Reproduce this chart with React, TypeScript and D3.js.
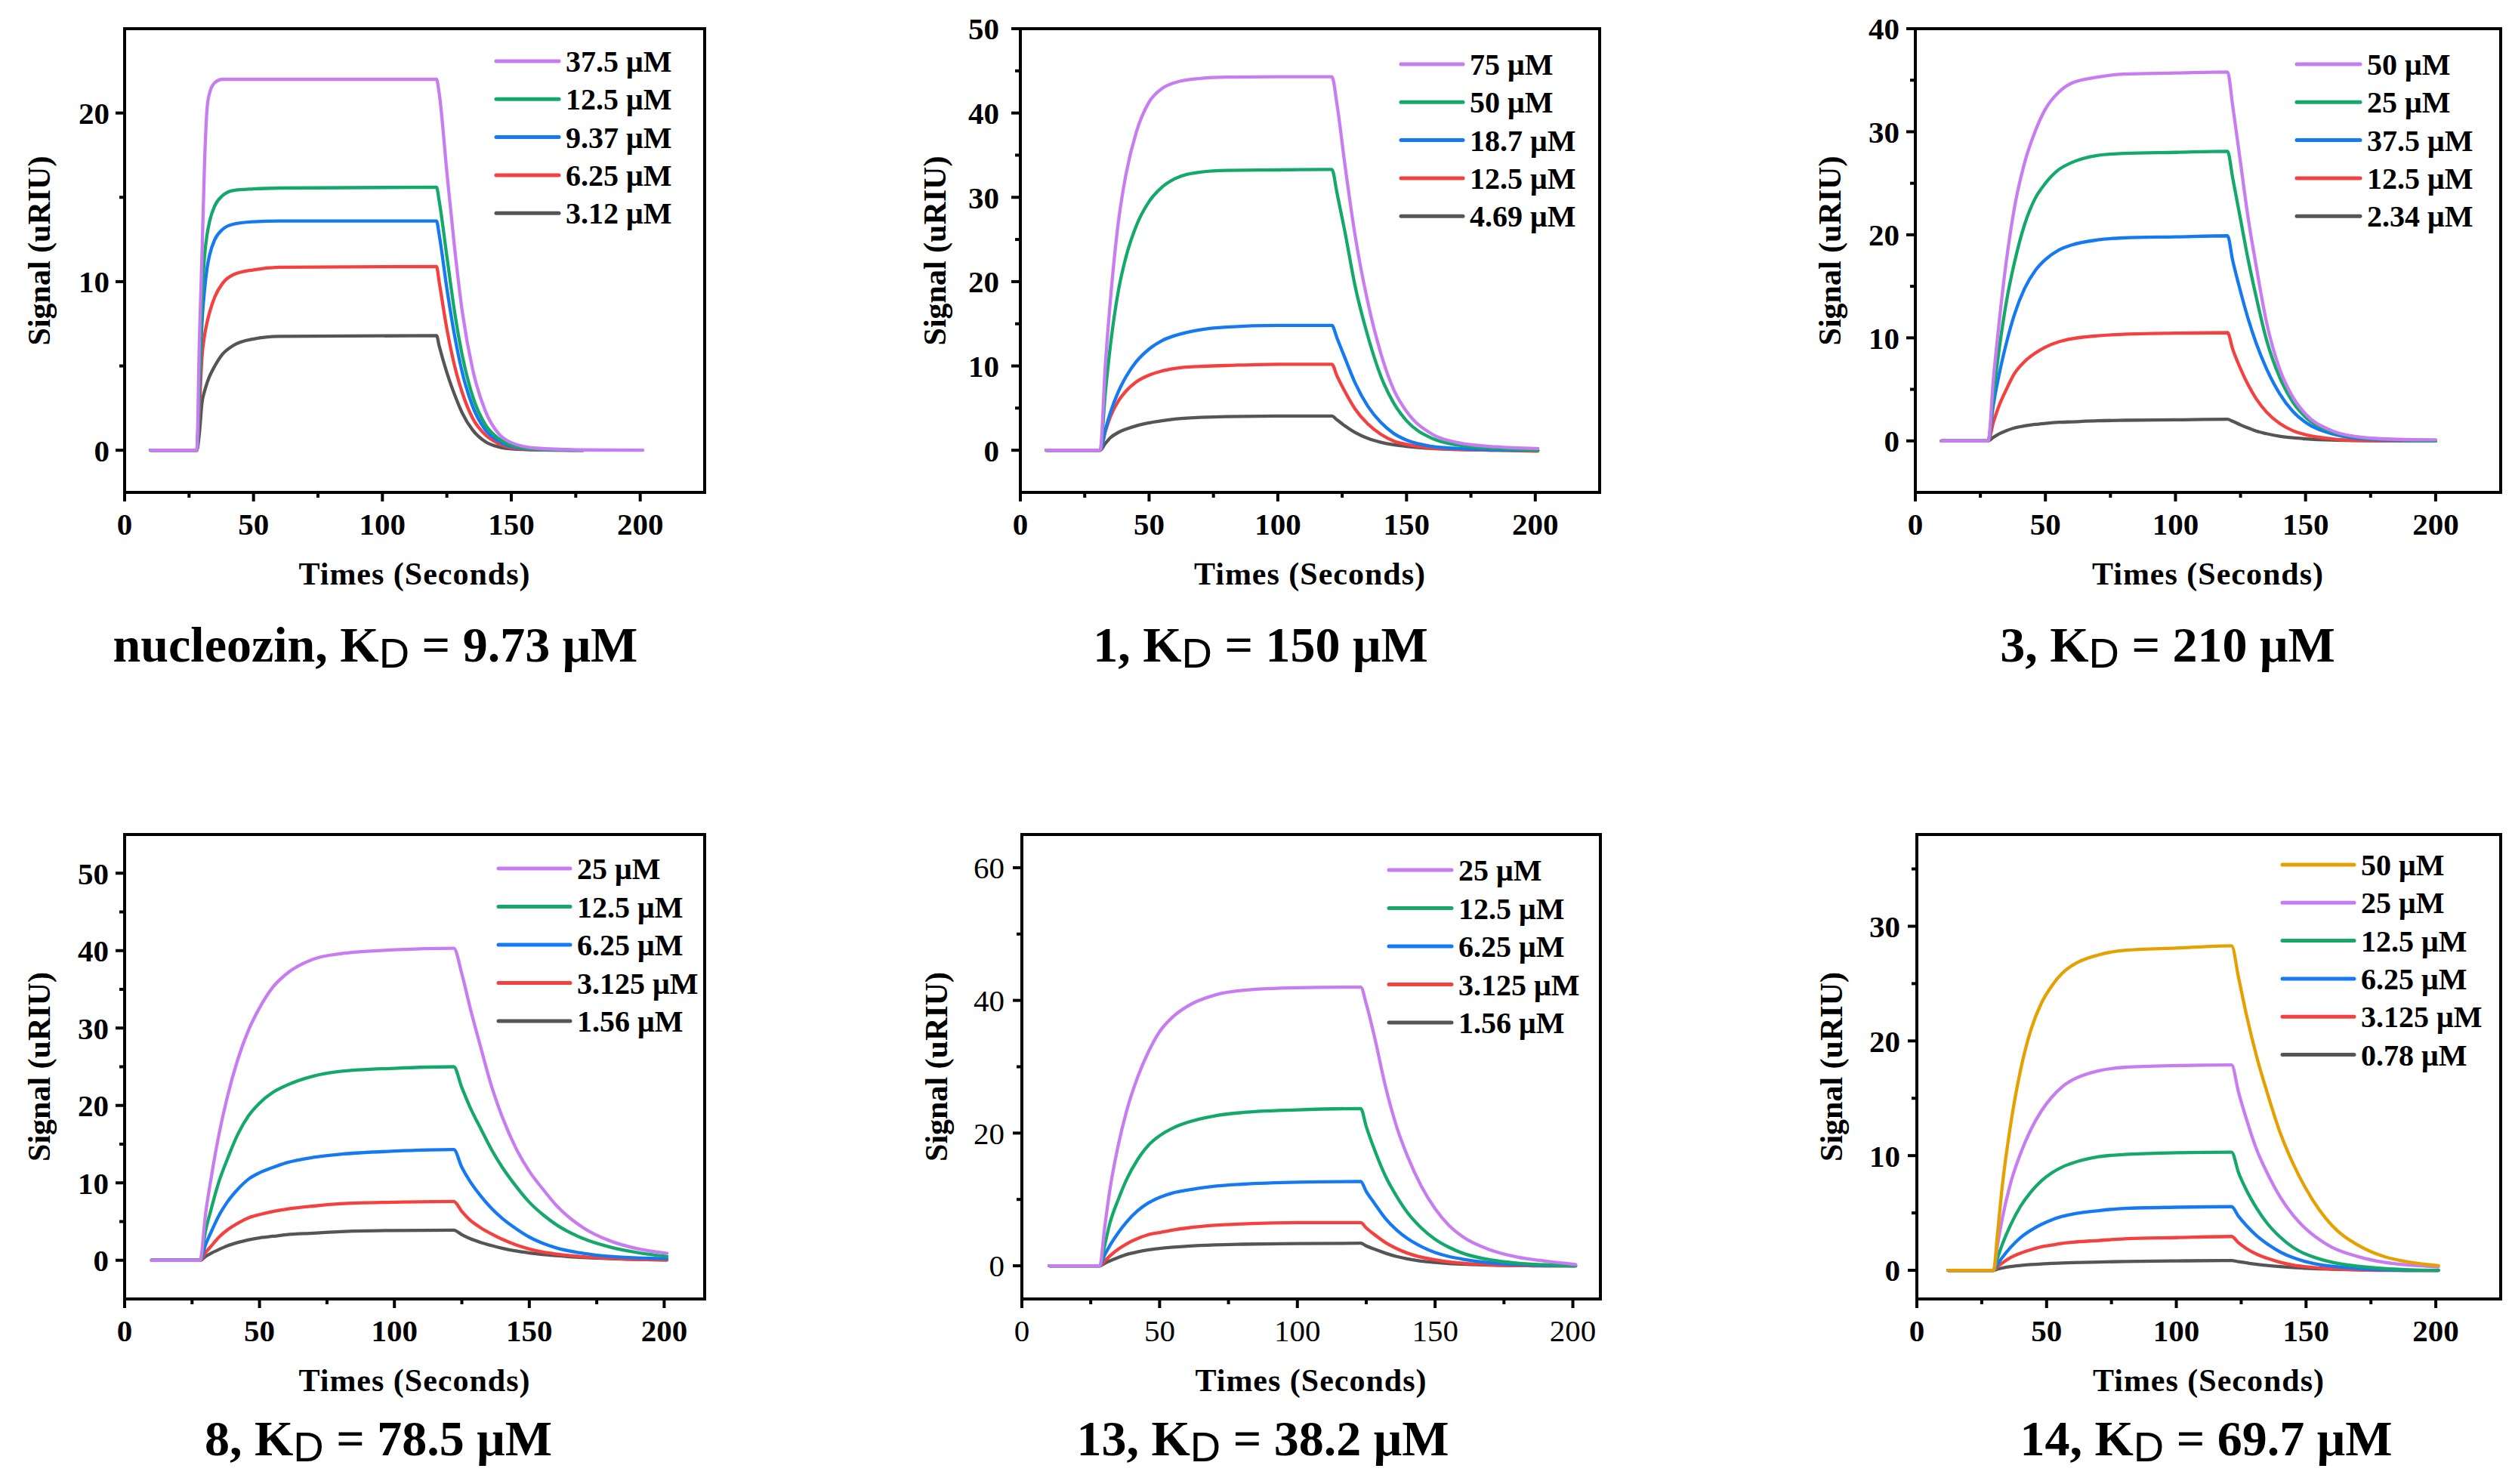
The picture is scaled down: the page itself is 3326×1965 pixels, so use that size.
import React from 'react';
import * as d3 from 'd3';

// ---------- colours ----------
const C_PURPLE = '#C77DF1';
const C_GREEN = '#14A86B';
const C_BLUE = '#1579F2';
const C_RED = '#F4403E';
const C_GRAY = '#555555';
const C_ORANGE = '#E5A102';

// ---------- axis ticks ----------
const X_MAJOR = [0, 50, 100, 150, 200];
const X_MINOR = [25, 75, 125, 175];

// ---------- panel 1 : nucleozin ----------
const P1_TIMES = [10, 28, 29, 30, 31, 32, 33, 35, 38, 42, 50, 60, 121, 122, 125, 128, 131, 135, 140, 145, 150, 160, 178, 201];
const P1_LABELS = ['37.5 μM', '12.5 μM', '9.37 μM', '6.25 μM', '3.12 μM'];
const P1_S1 = [0, 0, 6.5, 11.5, 17, 20.3, 21.2, 21.8, 22, 22, 22, 22, 22, 21.2, 16.5, 12, 8.2, 4.8, 2.3, 1.0, 0.45, 0.12, 0.02, 0];
const P1_S2 = [0, 0, 4, 9, 11.5, 12.8, 13.6, 14.5, 15.1, 15.4, 15.5, 15.55, 15.6, 14.8, 11.5, 8.2, 5.6, 3.2, 1.5, 0.7, 0.3, 0.06, 0, null];
const P1_S3 = [0, 0, 3.5, 7.5, 9.5, 10.8, 11.6, 12.5, 13.1, 13.4, 13.55, 13.6, 13.6, 12.8, 9.6, 6.8, 4.6, 2.6, 1.2, 0.55, 0.22, 0.05, 0, null];
const P1_S4 = [0, 0, 2.5, 5.5, 6.8, 7.6, 8.2, 9.1, 9.9, 10.4, 10.7, 10.85, 10.9, 10.0, 7.2, 5.0, 3.4, 1.9, 0.9, 0.4, 0.15, 0.03, 0, null];
const P1_S5 = [0, 0, 1, 2.8, 3.5, 4.0, 4.4, 5.0, 5.7, 6.2, 6.6, 6.75, 6.8, 6.2, 4.6, 3.3, 2.2, 1.2, 0.5, 0.2, 0.08, 0.02, 0, null];
const P1_Y_MAJOR = [0, 10, 20];
const P1_Y_MINOR = [5, 15];

// ---------- panel 2 : compound 1 ----------
const P2_TIMES = [10, 31, 33, 35, 38, 41, 45, 50, 55, 60, 70, 80, 100, 121, 123, 126, 130, 135, 140, 145, 150, 160, 170, 185, 201];
const P2_LABELS = ['75 μM', '50 μM', '18.7 μM', '12.5 μM', '4.69 μM'];
const P2_S1 = [0, 0, 10.1, 17.9, 26.9, 32.7, 37.7, 41.3, 42.9, 43.6, 44.1, 44.25, 44.3, 44.3, 41, 34, 25.5, 17.5, 11.5, 7.2, 4.6, 1.9, 0.9, 0.4, 0.2];
const P2_S2 = [0, 0, 6.8, 12.5, 18.8, 22.9, 26.6, 29.5, 31.2, 32.2, 33.0, 33.2, 33.25, 33.3, 30.5, 26, 19.5, 13.5, 8.8, 5.6, 3.5, 1.4, 0.6, 0.2, 0];
const P2_S3 = [0, 0, 2.4, 4.5, 6.9, 8.7, 10.5, 12.0, 13.0, 13.6, 14.3, 14.6, 14.8, 14.8, 13.3, 11, 8, 5.2, 3.3, 2.0, 1.2, 0.45, 0.2, 0.05, 0];
const P2_S4 = [0, 0, 2.2, 4, 5.8, 7, 8.1, 8.9, 9.4, 9.7, 9.95, 10.05, 10.2, 10.2, 8.8, 7, 4.9, 3.1, 1.9, 1.1, 0.7, 0.25, 0.1, 0, -0.1];
const P2_S5 = [0, 0, 0.8, 1.5, 2.1, 2.5, 2.9, 3.25, 3.5, 3.7, 3.9, 4.0, 4.05, 4.05, 3.6, 2.9, 2.1, 1.4, 0.95, 0.65, 0.45, 0.2, 0.1, 0, 0];
const P2_Y_MAJOR = [0, 10, 20, 30, 40, 50];
const P2_Y_MINOR = [5, 15, 25, 35, 45];

// ---------- panel 3 : compound 3 ----------
const P3_TIMES = [10, 28, 30, 32, 35, 38, 42, 46, 50, 55, 60, 70, 80, 100, 120, 122, 125, 128, 131, 135, 140, 145, 150, 160, 170, 185, 200];
const P3_LABELS = ['50 μM', '25 μM', '37.5 μM', '12.5 μM', '2.34 μM'];
const P3_S1 = [0, 0, 6, 11, 17.5, 22.5, 27, 30, 32.2, 33.8, 34.7, 35.3, 35.6, 35.7, 35.8, 32.5, 27, 21.5, 17, 11.5, 7, 4.3, 2.6, 1.0, 0.4, 0.15, 0.1];
const P3_S2 = [0, 0, 4.5, 8.5, 13.5, 17.2, 21, 23.5, 25, 26.3, 27, 27.7, 27.9, 28.0, 28.1, 25.5, 21.5, 17.5, 14, 9.8, 6.2, 3.8, 2.3, 0.9, 0.35, 0.1, 0];
const P3_S3 = [0, 0, 3.5, 6.2, 9.5, 12.2, 14.8, 16.5, 17.6, 18.5, 19, 19.5, 19.7, 19.8, 19.9, 17.5, 14.5, 11.8, 9.5, 7, 4.6, 2.9, 1.8, 0.7, 0.25, 0.05, 0];
const P3_S4 = [0, 0, 1.8, 3.3, 5, 6.5, 7.7, 8.5, 9.1, 9.6, 9.9, 10.2, 10.35, 10.45, 10.5, 8.9, 7.0, 5.4, 4.1, 2.8, 1.7, 1.0, 0.6, 0.2, 0.05, 0, 0];
const P3_S5 = [0, 0, 0.35, 0.65, 1.0, 1.25, 1.45, 1.6, 1.7, 1.8, 1.85, 1.95, 2.0, 2.05, 2.1, 1.9, 1.55, 1.25, 0.95, 0.7, 0.45, 0.3, 0.2, 0.08, 0.03, 0, 0];
const P3_Y_MAJOR = [0, 10, 20, 30, 40];
const P3_Y_MINOR = [5, 15, 25, 35];

// ---------- panel 4 : compound 8 ----------
const P8_TIMES = [10, 28, 30, 32, 35, 38, 42, 46, 50, 55, 60, 70, 80, 100, 122, 125, 128, 132, 136, 140, 145, 150, 155, 160, 170, 180, 190, 201];
const P8_LABELS = ['25 μM', '12.5 μM', '6.25 μM', '3.125 μM', '1.56 μM'];
const P8_S1 = [0, 0, 6, 10.5, 16.3, 21, 26, 29.8, 32.6, 35.3, 37, 38.9, 39.6, 40.1, 40.3, 37, 32.7, 27.5, 22.5, 18.5, 14.5, 11.5, 9.2, 7.1, 4.2, 2.5, 1.5, 0.9];
const P8_S2 = [0, 0, 3.8, 6.5, 10.2, 13, 16.3, 18.7, 20.3, 21.7, 22.6, 23.8, 24.4, 24.8, 25, 22.3, 19.8, 17, 14.3, 12, 9.6, 7.5, 5.9, 4.6, 2.8, 1.7, 1.0, 0.5];
const P8_S3 = [0, 0, 2, 3.6, 5.8, 7.5, 9.2, 10.5, 11.3, 12, 12.6, 13.3, 13.7, 14.1, 14.3, 12, 10.2, 8.3, 6.7, 5.4, 4.1, 3.0, 2.2, 1.6, 0.9, 0.5, 0.3, 0.2];
const P8_S4 = [0, 0, 1, 1.8, 3.0, 3.9, 4.8, 5.5, 5.9, 6.3, 6.6, 7.0, 7.3, 7.5, 7.6, 6.3, 5.2, 4.2, 3.4, 2.7, 2.0, 1.45, 1.05, 0.8, 0.45, 0.25, 0.1, 0.05];
const P8_S5 = [0, 0, 0.5, 0.9, 1.4, 1.85, 2.3, 2.65, 2.9, 3.1, 3.3, 3.5, 3.7, 3.85, 3.9, 3.3, 2.8, 2.3, 1.9, 1.55, 1.2, 0.95, 0.75, 0.6, 0.35, 0.2, 0.1, 0.05];
const P8_Y_MAJOR = [0, 10, 20, 30, 40, 50];
const P8_Y_MINOR = [5, 15, 25, 35, 45];

// ---------- panel 5 : compound 13 ----------
const P13_TIMES = [10, 28.3, 30, 32, 35, 38, 42, 46, 50, 55, 60, 70, 80, 100, 123, 125, 128, 132, 136, 140, 145, 150, 155, 160, 170, 180, 190, 201];
const P13_LABELS = ['25 μM', '12.5 μM', '6.25 μM', '3.125 μM', '1.56 μM'];
const P13_S1 = [0, 0, 5.6, 11.6, 18.2, 23.3, 28.4, 32.3, 35.3, 37.6, 39.1, 40.8, 41.5, 41.9, 42, 39.5, 34.5, 27, 21, 16.5, 12, 8.6, 6.1, 4.4, 2.4, 1.3, 0.7, 0.2];
const P13_S2 = [0, 0, 3, 6.5, 10, 13, 16.0, 18.2, 19.6, 20.8, 21.6, 22.6, 23.1, 23.5, 23.7, 21, 17.5, 13.5, 10.5, 8.0, 5.7, 4.0, 2.8, 1.9, 0.9, 0.4, 0.15, 0];
const P13_S3 = [0, 0, 1.6, 3.1, 5.0, 6.6, 8.3, 9.5, 10.3, 11, 11.4, 12, 12.3, 12.6, 12.7, 11.2, 9.4, 7.1, 5.4, 4.1, 2.9, 2.0, 1.4, 1.0, 0.45, 0.2, 0.05, 0];
const P13_S4 = [0, 0, 0.7, 1.5, 2.5, 3.3, 4.1, 4.7, 5.0, 5.4, 5.7, 6.1, 6.3, 6.5, 6.5, 5.7, 4.7, 3.5, 2.6, 1.9, 1.3, 0.9, 0.6, 0.4, 0.15, 0.05, 0, 0];
const P13_S5 = [0, 0, 0.35, 0.75, 1.25, 1.7, 2.1, 2.4, 2.6, 2.8, 2.95, 3.15, 3.25, 3.35, 3.4, 3.0, 2.5, 1.9, 1.4, 1.05, 0.7, 0.5, 0.35, 0.25, 0.1, 0.05, 0, 0];
const P13_Y_MAJOR = [0, 20, 40, 60];
const P13_Y_MINOR = [10, 30, 50];

// ---------- panel 6 : compound 14 ----------
const P14_TIMES = [12, 29.6, 31, 33, 36, 40, 44, 48, 52, 56, 60, 70, 80, 100, 121.3, 124, 127, 131, 135, 140, 145, 150, 155, 160, 170, 180, 190, 201];
const P14_LABELS = ['50 μM', '25 μM', '12.5 μM', '6.25 μM', '3.125 μM', '0.78 μM'];
const P14_S0 = [0, 0, 3, 7.5, 12.5, 17.5, 21, 23.3, 24.8, 25.9, 26.6, 27.5, 27.9, 28.1, 28.3, 25.5, 22.3, 18.6, 15.5, 12, 9.3, 7.1, 5.3, 3.9, 2.2, 1.2, 0.7, 0.4];
const P14_S1 = [0, 0, 2.1, 4.6, 7.5, 10.2, 12.3, 13.9, 15.1, 16.0, 16.6, 17.4, 17.7, 17.85, 17.9, 15.5, 13.2, 10.5, 8.5, 6.4, 4.8, 3.6, 2.7, 2.0, 1.2, 0.7, 0.45, 0.3];
const P14_S2 = [0, 0, 1.0, 2.3, 3.9, 5.6, 6.85, 7.8, 8.5, 9.0, 9.35, 9.9, 10.1, 10.25, 10.3, 8.5, 7.0, 5.4, 4.1, 2.9, 2.0, 1.4, 1.0, 0.7, 0.35, 0.15, 0.05, 0];
const P14_S3 = [0, 0, 0.52, 1.14, 1.97, 2.86, 3.5, 4.0, 4.4, 4.7, 4.9, 5.2, 5.4, 5.5, 5.55, 4.7, 3.9, 3.0, 2.3, 1.6, 1.1, 0.75, 0.5, 0.35, 0.15, 0.05, 0, 0];
const P14_S4 = [0, 0, 0.3, 0.65, 1.1, 1.5, 1.8, 2.05, 2.2, 2.35, 2.45, 2.6, 2.75, 2.85, 2.95, 2.4, 1.9, 1.4, 1.05, 0.7, 0.45, 0.3, 0.2, 0.12, 0.05, 0, 0, 0];
const P14_S5 = [0, 0, 0.1, 0.2, 0.32, 0.42, 0.5, 0.56, 0.6, 0.64, 0.67, 0.72, 0.77, 0.82, 0.85, 0.75, 0.65, 0.52, 0.42, 0.32, 0.24, 0.18, 0.13, 0.1, 0.05, 0.02, 0, 0];
const P14_Y_MAJOR = [0, 10, 20, 30];
const P14_Y_MINOR = [5, 15, 25, 35];

// ---------- titles ----------
const TITLES = [
  { name: 'nucleozin', kd: '9.73 μM' },
  { name: '1', kd: '150 μM' },
  { name: '3', kd: '210 μM' },
  { name: '8', kd: '78.5 μM' },
  { name: '13', kd: '38.2 μM' },
  { name: '14', kd: '69.7 μM' },
];

type Series = { label: string; color: string; values: (number | null)[] };
type PanelDef = {
  times: number[];
  series: Series[];
  xDomain: [number, number];
  yDomain: [number, number];
  yMajor: number[];
  yMinor: number[];
  box: { left: number; right: number; top: number; bottom: number };
  legend: { x: number; len: number; top: number; step: number };
  titlePos: { x: number; y: number };
  yTitleShift: number;
  yLabelGap: number;
  boldTicks: boolean;
  title: { name: string; kd: string };
};

const mk = (labels: string[], colors: string[], vals: (number | null)[][]): Series[] =>
  labels.map((l, i) => ({ label: l, color: colors[i], values: vals[i] }));

const COLORS5 = [C_PURPLE, C_GREEN, C_BLUE, C_RED, C_GRAY];
const COLORS6 = [C_ORANGE, C_PURPLE, C_GREEN, C_BLUE, C_RED, C_GRAY];

const PANELS: PanelDef[] = [
  {
    times: P1_TIMES, series: mk(P1_LABELS, COLORS5, [P1_S1, P1_S2, P1_S3, P1_S4, P1_S5]),
    xDomain: [0, 225], yDomain: [-2.5, 25], yMajor: P1_Y_MAJOR, yMinor: P1_Y_MINOR,
    box: { left: 165, right: 933, top: 38, bottom: 652 },
    legend: { x: 657, len: 83, top: 81, step: 50.3 },
    titlePos: { x: 497, y: 876 }, yTitleShift: -13, yLabelGap: 20, boldTicks: true, title: TITLES[0],
  },
  {
    times: P2_TIMES, series: mk(P2_LABELS, COLORS5, [P2_S1, P2_S2, P2_S3, P2_S4, P2_S5]),
    xDomain: [0, 225], yDomain: [-5, 50], yMajor: P2_Y_MAJOR, yMinor: P2_Y_MINOR,
    box: { left: 1351, right: 2118, top: 38, bottom: 652 },
    legend: { x: 1855, len: 82, top: 85, step: 50.3 },
    titlePos: { x: 1669, y: 876 }, yTitleShift: -13, yLabelGap: 28, boldTicks: true, title: TITLES[1],
  },
  {
    times: P3_TIMES, series: mk(P3_LABELS, COLORS5, [P3_S1, P3_S2, P3_S3, P3_S4, P3_S5]),
    xDomain: [0, 225], yDomain: [-5, 40], yMajor: P3_Y_MAJOR, yMinor: P3_Y_MINOR,
    box: { left: 2536, right: 3311, top: 38, bottom: 652 },
    legend: { x: 3041, len: 84, top: 85, step: 50.3 },
    titlePos: { x: 2870, y: 876 }, yTitleShift: -13, yLabelGap: 21, boldTicks: true, title: TITLES[2],
  },
  {
    times: P8_TIMES, series: mk(P8_LABELS, COLORS5, [P8_S1, P8_S2, P8_S3, P8_S4, P8_S5]),
    xDomain: [0, 215], yDomain: [-5, 55], yMajor: P8_Y_MAJOR, yMinor: P8_Y_MINOR,
    box: { left: 165, right: 933, top: 1105, bottom: 1720 },
    legend: { x: 660, len: 95, top: 1150, step: 50.5 },
    titlePos: { x: 501, y: 1927 }, yTitleShift: 0, yLabelGap: 21, boldTicks: true, title: TITLES[3],
  },
  {
    times: P13_TIMES, series: mk(P13_LABELS, COLORS5, [P13_S1, P13_S2, P13_S3, P13_S4, P13_S5]),
    xDomain: [0, 210], yDomain: [-5, 65], yMajor: P13_Y_MAJOR, yMinor: P13_Y_MINOR,
    box: { left: 1353, right: 2119, top: 1105, bottom: 1720 },
    legend: { x: 1839, len: 83, top: 1152, step: 50.5 },
    titlePos: { x: 1672, y: 1927 }, yTitleShift: 0, yLabelGap: 23, boldTicks: false, title: TITLES[4],
  },
  {
    times: P14_TIMES, series: mk(P14_LABELS, COLORS6, [P14_S0, P14_S1, P14_S2, P14_S3, P14_S4, P14_S5]),
    xDomain: [0, 225], yDomain: [-2.5, 38], yMajor: P14_Y_MAJOR, yMinor: P14_Y_MINOR,
    box: { left: 2538, right: 3311, top: 1105, bottom: 1720 },
    legend: { x: 3022, len: 95, top: 1145, step: 50.3 },
    titlePos: { x: 2921, y: 1927 }, yTitleShift: 0, yLabelGap: 22, boldTicks: true, title: TITLES[5],
  },
];

const SERIF = '"Liberation Serif", "Times New Roman", serif';
const SANS = '"Liberation Sans", Arial, sans-serif';

function Panel({ p }: { p: PanelDef }) {
  const { box } = p;
  const x = d3.scaleLinear().domain(p.xDomain).range([box.left, box.right]);
  const y = d3.scaleLinear().domain(p.yDomain).range([box.bottom, box.top]);
  const line = d3
    .line<[number, number | null]>()
    .defined((d) => d[1] != null)
    .x((d) => x(d[0]))
    .y((d) => y(d[1] as number))
    .curve(d3.curveMonotoneX);

  const xMinor = X_MINOR.filter((v) => v < p.xDomain[1]);
  const tickW = 4;
  const majLen = 12;
  const minLen = 7;
  const midX = (box.left + box.right) / 2;
  const midY = (box.top + box.bottom) / 2 + p.yTitleShift;

  return (
    <g>
      {[...p.series].reverse().map((s, i) => {
        const pts: [number, number | null][] = p.times.map((t, k) => [t, s.values[k]]);
        return (
          <path key={i} d={line(pts) || ''} fill="none" stroke={s.color} strokeWidth={4.3}
            strokeLinejoin="round" strokeLinecap="round" />
        );
      })}
      <rect x={box.left} y={box.top} width={box.right - box.left} height={box.bottom - box.top}
        fill="none" stroke="#000" strokeWidth={4} />
      {X_MAJOR.map((v) => (
        <g key={'xm' + v}>
          <line x1={x(v)} x2={x(v)} y1={box.bottom} y2={box.bottom + majLen} stroke="#000" strokeWidth={tickW} />
          <text x={x(v)} y={box.bottom + 56} textAnchor="middle" fontFamily={SERIF}
            fontWeight={p.boldTicks ? 'bold' : 'normal'} fontSize={41}>{v}</text>
        </g>
      ))}
      {xMinor.map((v) => (
        <line key={'xn' + v} x1={x(v)} x2={x(v)} y1={box.bottom} y2={box.bottom + minLen} stroke="#000" strokeWidth={tickW} />
      ))}
      {p.yMajor.map((v) => (
        <g key={'ym' + v}>
          <line x1={box.left - majLen} x2={box.left} y1={y(v)} y2={y(v)} stroke="#000" strokeWidth={tickW} />
          <text x={box.left - p.yLabelGap} y={y(v)} dy="0.35em" textAnchor="end" fontFamily={SERIF}
            fontWeight={p.boldTicks ? 'bold' : 'normal'} fontSize={41}>{v}</text>
        </g>
      ))}
      {p.yMinor.map((v) => (
        <line key={'yn' + v} x1={box.left - minLen} x2={box.left} y1={y(v)} y2={y(v)} stroke="#000" strokeWidth={tickW} />
      ))}
      <text x={midX} y={box.bottom + 122} textAnchor="middle" fontFamily={SERIF} fontWeight="bold"
        fontSize={42} letterSpacing={1}>Times (Seconds)</text>
      <text transform={`translate(${box.left - 114},${midY}) rotate(-90)`} dy="0.35em" textAnchor="middle"
        fontFamily={SERIF} fontWeight="bold" fontSize={42}>Signal (uRIU)</text>
      {p.series.map((s, i) => {
        const ly = p.legend.top + i * p.legend.step;
        return (
          <g key={'lg' + i}>
            <line x1={p.legend.x} x2={p.legend.x + p.legend.len} y1={ly} y2={ly} stroke={s.color} strokeWidth={5} strokeLinecap="round" />
            <text x={p.legend.x + p.legend.len + 9} y={ly} dy="0.35em" fontFamily={SERIF} fontWeight="bold" fontSize={40}>{s.label}</text>
          </g>
        );
      })}
      <text x={p.titlePos.x} y={p.titlePos.y} textAnchor="middle" fontFamily={SERIF} fontWeight="bold" fontSize={66}>
        <tspan>{p.title.name}, K</tspan>
        <tspan fontFamily={SANS} fontWeight="normal" fontSize={56} dy={8}>D</tspan>
        <tspan dy={-8}>{' = ' + p.title.kd}</tspan>
      </text>
    </g>
  );
}

export default function App() {
  return (
    <svg width={3326} height={1965} viewBox="0 0 3326 1965"
      style={{ position: 'absolute', left: 0, top: 0, background: '#fff', display: 'block' }}>
      <rect x={0} y={0} width={3326} height={1965} fill="#fff" />
      {PANELS.map((p, i) => (
        <Panel key={i} p={p} />
      ))}
    </svg>
  );
}
